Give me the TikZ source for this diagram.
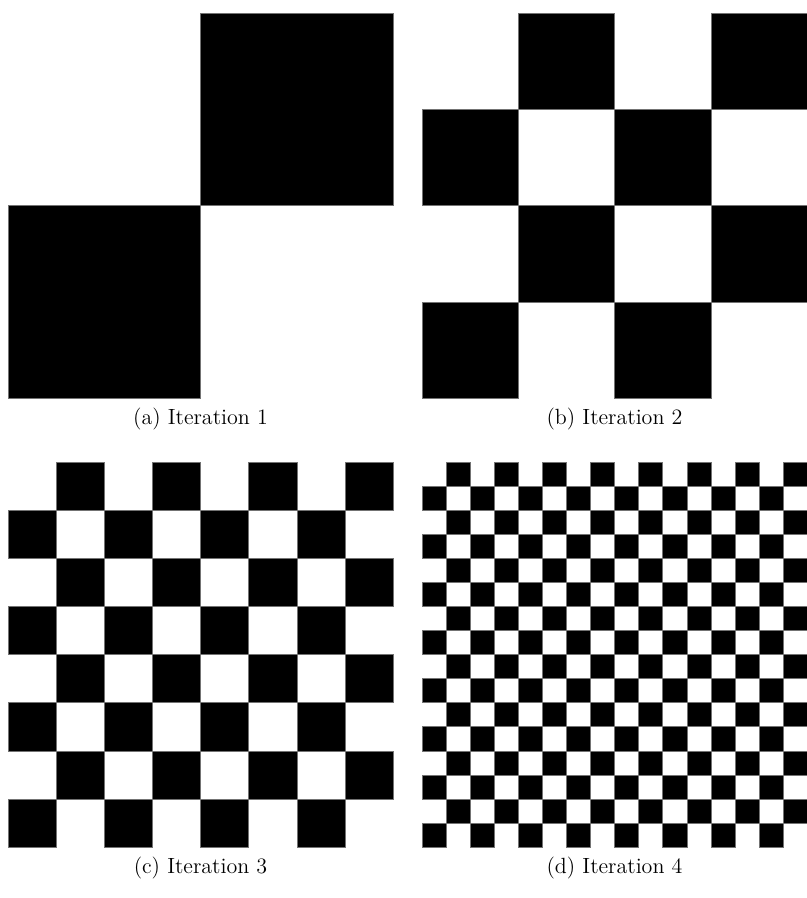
\documentclass[tikz,border=0pt]{standalone}
\usetikzlibrary{positioning}

\begin{document}
\begin{tikzpicture}[
      x=0.5pt, y=-0.5pt,
      cell/.style={fill=black, draw=black!55, line width=0.2pt},
      subcap/.style={anchor=base, font=\fontsize{11}{13}\selectfont}
    ]
    \useasboundingbox (0,0) rectangle (807,898);
    % one board per iteration: cells per side / label / iteration / corner
    \foreach \n/\lbl/\k/\px/\py in {2/a/1/8/13, 4/b/2/422/13, 8/c/3/8/462, 16/d/4/422/462} {
      \pgfmathsetmacro{\w}{385/\n}
      \pgfmathtruncatemacro{\m}{\n-1}
      \foreach \i in {0,...,\m} {
        \foreach \j in {0,...,\m} {
          \ifodd\numexpr\i+\j\relax
            \path[cell] (\px+\i*\w, \py+\j*\w) rectangle ++(\w,\w);
          \fi
        }
      }
      \node[subcap] (cap-\lbl) at (\px+192.5, \py+411) {(\lbl) Iteration \k};
    }
  \end{tikzpicture}
\end{document}
